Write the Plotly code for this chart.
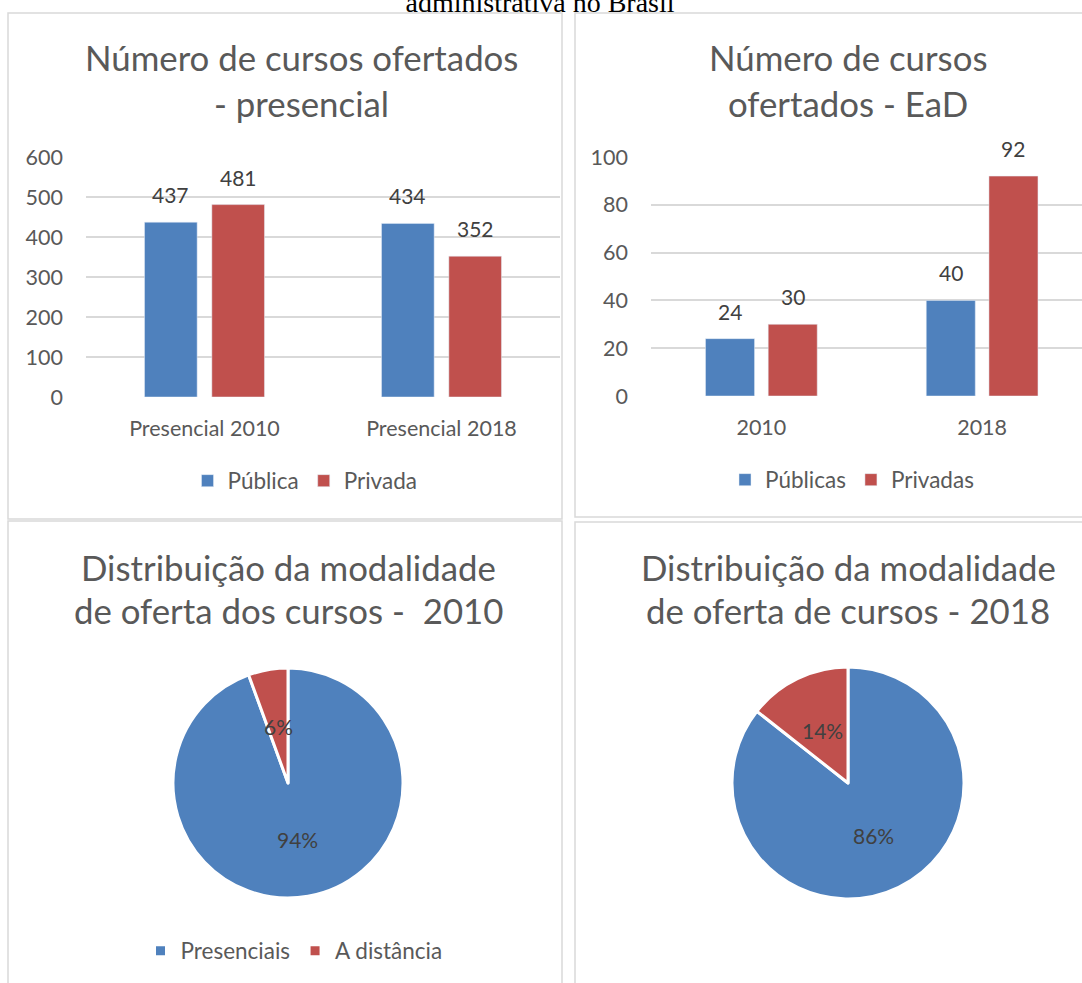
import math
import plotly.graph_objects as go

W, H = 1082, 983

# ---------------- data ----------------
pres_categories = ["Presencial 2010", "Presencial 2018"]
pres_publica = [437, 434]
pres_privada = [481, 352]

ead_categories = ["2010", "2018"]
ead_publicas = [24, 40]
ead_privadas = [30, 92]

pie_labels = ["Presenciais", "A distância"]
pie_2010 = [918, 54]
pie_2018 = [786, 132]

caption = "administrativa no Brasil"
title_tl = ["Número de cursos ofertados", "- presencial"]
title_tr = ["Número de cursos", "ofertados - EaD"]
title_bl = ["Distribuição da modalidade", "de oferta dos cursos -  2010"]
title_br = ["Distribuição da modalidade", "de oferta de cursos - 2018"]

BLUE = "#4f81bd"
RED = "#c0504d"
TXT = "#595959"
LBL = "#404040"
GRID = "#d9d9d9"
FONT = "Lato, 'Open Sans', sans-serif"

BARGAP = 0.432
BARGROUPGAP = 0.218


def px(x):
    return x / W


def py(y):
    return 1 - y / H


fig = go.Figure()

# ---------------- top-left bars ----------------
fig.add_trace(go.Bar(x=pres_categories, y=pres_publica, name="Pública", marker_color=BLUE,
                     xaxis="x", yaxis="y", legend="legend"))
fig.add_trace(go.Bar(x=pres_categories, y=pres_privada, name="Privada", marker_color=RED,
                     xaxis="x", yaxis="y", legend="legend"))

# ---------------- top-right bars ----------------
fig.add_trace(go.Bar(x=ead_categories, y=ead_publicas, name="Públicas", marker_color=BLUE,
                     xaxis="x2", yaxis="y2", legend="legend2"))
fig.add_trace(go.Bar(x=ead_categories, y=ead_privadas, name="Privadas", marker_color=RED,
                     xaxis="x2", yaxis="y2", legend="legend2"))

# ---------------- pies ----------------


def add_pie(values, cx, cy, r, legend):
    fig.add_trace(go.Pie(
        labels=pie_labels, values=values, sort=False, direction="clockwise", rotation=0,
        marker=dict(colors=[BLUE, RED], line=dict(color="white", width=3)),
        textinfo="none", hoverinfo="label+percent",
        domain=dict(x=[px(cx - r), px(cx + r)], y=[py(cy + r), py(cy - r)]),
        legend=legend, showlegend=True,
    ))
    # percentage labels placed along the mid-angle of each slice
    total = sum(values)
    start = 0.0
    for v in values:
        frac = v / total
        mid = (start + frac / 2) * 2 * math.pi
        start += frac
        lx = cx + 0.5 * r * math.sin(mid)
        ly = cy - 0.5 * r * math.cos(mid)
        fig.add_annotation(x=px(lx), y=py(ly), xref="paper", yref="paper",
                           text=f"{round(frac * 100)}%", showarrow=False,
                           font=dict(family=FONT, size=21, color=LBL),
                           xanchor="center", yanchor="middle")


add_pie(pie_2010, 288, 783, 115, "legend3")
add_pie(pie_2018, 848, 783, 116, "legend4")

# ---------------- bar value labels ----------------
off = (1 - BARGAP) / 4


def bar_labels(vals, sign, xa, ya):
    for i, v in enumerate(vals):
        fig.add_annotation(x=i + sign * off, y=v, xref=xa, yref=ya, text=str(v),
                           showarrow=False, yanchor="bottom", yshift=13,
                           font=dict(family=FONT, size=21, color=LBL))


bar_labels(pres_publica, -1, "x", "y")
bar_labels(pres_privada, 1, "x", "y")
bar_labels(ead_publicas, -1, "x2", "y2")
bar_labels(ead_privadas, 1, "x2", "y2")

# ---------------- titles ----------------


def title(lines, cx, y1, y2):
    for t, yy in zip(lines, (y1, y2)):
        fig.add_annotation(x=px(cx), y=py(yy), xref="paper", yref="paper", text=t,
                           showarrow=False, xanchor="center", yanchor="middle",
                           font=dict(family=FONT, size=34.8, color=TXT))


title(title_tl, 301, 57, 103)
title(title_tr, 848, 57, 103)
title(title_bl, 288, 567, 610)
title(title_br, 848, 567, 610)

# ---------------- panel borders ----------------
panels = [(8, 13, 562, 519), (575, 13, 1095, 517), (8, 521, 562, 995), (575, 522, 1095, 995)]
for x0, y0, x1, y1 in panels:
    fig.add_shape(type="rect", xref="paper", yref="paper", x0=px(x0), x1=px(x1), y0=py(y1), y1=py(y0),
                  line=dict(color=GRID, width=1.5), fillcolor="rgba(0,0,0,0)", layer="below")

axis_common = dict(showline=False, zeroline=False, ticks="", tickfont=dict(family=FONT, size=21.5, color=TXT))

legend_common = dict(orientation="h", xanchor="center", yanchor="middle",
                     font=dict(family=FONT, size=22.5, color=TXT), bgcolor="rgba(0,0,0,0)",
                     itemwidth=30)

fig.update_layout(
    width=W, height=H, margin=dict(l=0, r=0, t=0, b=0, autoexpand=False),
    paper_bgcolor="white", plot_bgcolor="white",
    barmode="group", bargap=BARGAP, bargroupgap=BARGROUPGAP,
    font=dict(family=FONT, color=TXT),
    title=dict(text=caption, x=540 / W, xref="container", xanchor="center",
               y=1 - 12 / H, yref="container", yanchor="bottom", automargin=False,
               font=dict(family="'Liberation Serif', 'Times New Roman', serif", size=28, color="black")),
    xaxis=dict(domain=[px(86), px(560)], anchor="y", range=[-0.5, 1.5], type="category",
               showgrid=False, ticklabelstandoff=16, **axis_common),
    yaxis=dict(domain=[py(397), py(157)], anchor="x", range=[0, 600], dtick=100,
               showgrid=True, gridcolor=GRID, gridwidth=1.5, ticklabelstandoff=22, **axis_common),
    xaxis2=dict(domain=[px(651), 1.0], anchor="y2", range=[-0.5, 1.5 - 10.5 / 221], type="category",
                showgrid=False, ticklabelstandoff=16, **axis_common),
    yaxis2=dict(domain=[py(396), py(157)], anchor="x2", range=[0, 100], dtick=20,
                showgrid=True, gridcolor=GRID, gridwidth=1.5, ticklabelstandoff=22, **axis_common),
    legend=dict(x=px(305), y=py(481), **legend_common),
    legend2=dict(x=px(852), y=py(480), **legend_common),
    legend3=dict(x=px(294), y=py(951), **legend_common),
    legend4=dict(x=px(854), y=py(953), **legend_common),
)

fig.write_html(
    "out.html",
    config={"displayModeBar": False},
    post_script="document.body.style.margin='0';document.body.style.overflow='hidden';",
)
